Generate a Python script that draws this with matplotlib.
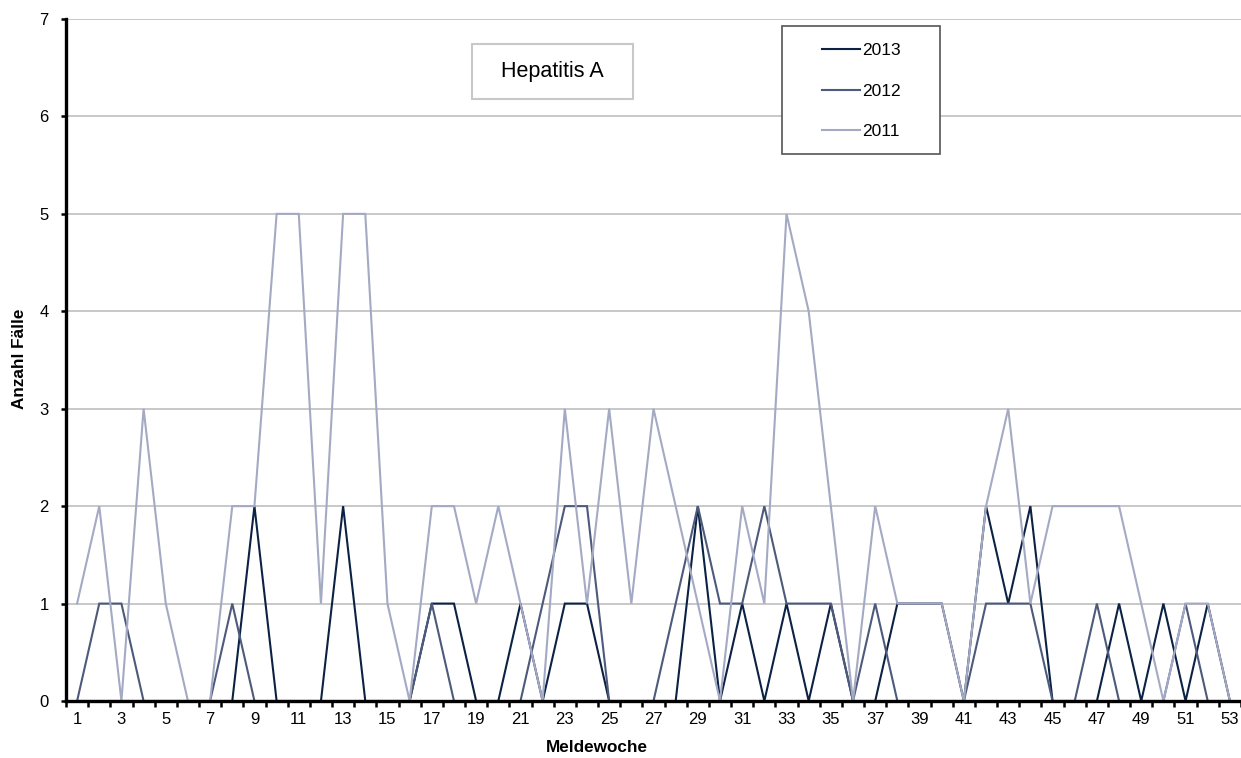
import matplotlib
matplotlib.use("Agg")
import matplotlib.pyplot as plt
from matplotlib.patches import Rectangle
import numpy as np

plt.rcParams["font.family"] = ["Liberation Sans", "DejaVu Sans"]

# weekly case counts
weeks = list(range(1, 54))
cases_2013 = [0, 0, 0, 0, 0, 0, 0, 0, 2, 0, 0, 0, 2, 0, 0, 0, 1, 1, 0, 0,
              1, 0, 1, 1, 0, 0, 0, 0, 2, 0, 1, 0, 1, 0, 1, 0, 0, 1, 1, 1,
              0, 2, 1, 2, 0, 0, 0, 1, 0, 1, 0, 1, 0]
cases_2012 = [0, 1, 1, 0, 0, 0, 0, 1, 0, 0, 0, 0, 0, 0, 0, 0, 1, 0, 0, 0,
              0, 1, 2, 2, 0, 0, 0, 1, 2, 1, 1, 2, 1, 1, 1, 0, 1, 0, 0, 0,
              0, 1, 1, 1, 0, 0, 1, 0, 0, 0, 1, 0, 0]
cases_2011 = [1, 2, 0, 3, 1, 0, 0, 2, 2, 5, 5, 1, 5, 5, 1, 0, 2, 2, 1, 2,
              1, 0, 3, 1, 3, 1, 3, 2, 1, 0, 2, 1, 5, 4, 2, 0, 2, 1, 1, 1,
              0, 2, 3, 1, 2, 2, 2, 2, 1, 0, 1, 1, 0]
series_labels = ["2013", "2012", "2011"]
series_colors = ["#0b2244", "#4d5a7c", "#a4a9c4"]

W, H = 1241, 758
fig = plt.figure(figsize=(W / 100, H / 100), dpi=100)
ax = fig.add_axes([66 / W, 57 / H, (W - 66) / W, 682 / H])

for vals, label, color in zip([cases_2013, cases_2012, cases_2011],
                              series_labels, series_colors):
    ax.plot(weeks, vals, color=color, linewidth=1.5, label=label,
            solid_joinstyle="miter", clip_on=False, zorder=3)

ax.set_xlim(0.5, 53.5)
ax.set_ylim(0, 7)
ax.set_yticks(range(0, 8))
ax.yaxis.grid(True, color="#c4c4c4", linewidth=1.3)
ax.set_axisbelow(True)

# ticks between categories, labels on every other week
ax.set_xticks(np.arange(0.5, 54, 1.0))
ax.set_xticklabels([])
ax.set_xticks(weeks[::2], minor=True)
ax.set_xticklabels([str(w) for w in weeks[::2]], minor=True)
ax.tick_params(axis="x", which="major", direction="out", length=4, width=1.8)
ax.tick_params(axis="x", which="minor", length=0, pad=8, labelsize=12)
ax.tick_params(axis="y", direction="out", length=3.5, width=1.8, pad=9,
               labelsize=12)

for side in ("top", "right"):
    ax.spines[side].set_visible(False)
for side in ("left", "bottom"):
    ax.spines[side].set_linewidth(2.4)
    ax.spines[side].set_color("black")
    ax.spines[side].set_zorder(4)

fig.text(20 / W, 1 - 359 / H, "Anzahl Fälle", rotation=90, fontsize=12.3,
         fontweight="bold", ha="center", va="center")
fig.text(597 / W, 1 - 747 / H, "Meldewoche", fontsize=12.3,
         fontweight="bold", ha="center", va="center")

# title box
fig.patches.append(Rectangle((472 / W, 1 - 99 / H), 161 / W, 55 / H,
                             transform=fig.transFigure, facecolor="white",
                             edgecolor="#c8c8c8", linewidth=1.5, zorder=5))
fig.text(552 / W, 1 - 72 / H, "Hepatitis A", fontsize=15.5,
         ha="center", va="center", zorder=6)

# legend box
fig.patches.append(Rectangle((782 / W, 1 - 154 / H), 158 / W, 128 / H,
                             transform=fig.transFigure, facecolor="white",
                             edgecolor="#555555", linewidth=1.2, zorder=5))
handles, labels = ax.get_legend_handles_labels()
leg = fig.legend(handles, labels, loc="center",
                 bbox_to_anchor=(861 / W, 1 - 91 / H), frameon=False,
                 fontsize=12.5, handlelength=2.2, handletextpad=0.1,
                 labelspacing=1.45)
leg.set_zorder(6)

fig.savefig("out.png", dpi=100)
